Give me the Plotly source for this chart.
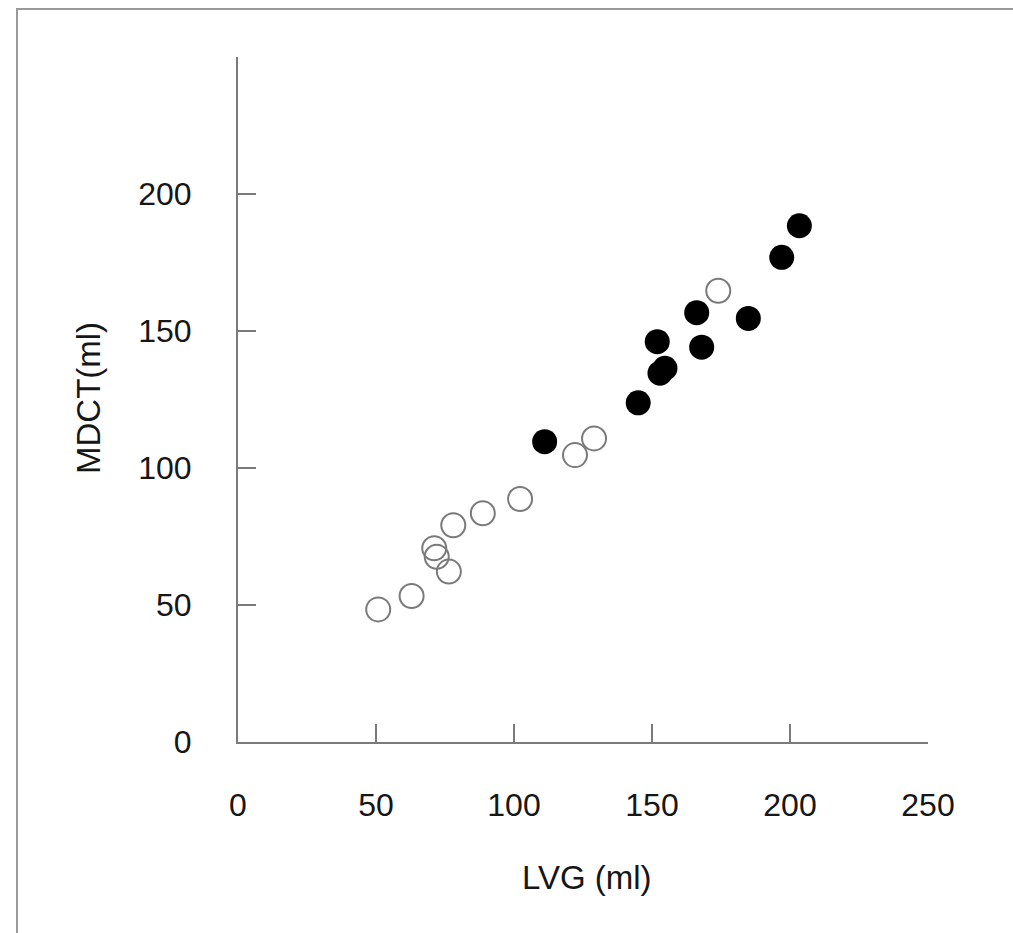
import plotly.graph_objects as go

# Open circles (group 1)
open_lvg = [50.8, 62.9, 71.1, 72.0, 76.4, 78.0, 88.7, 102.2, 122.1, 129.0, 174.0]
open_mdct = [48.4, 53.3, 70.7, 67.6, 62.2, 79.1, 83.5, 88.7, 104.7, 110.8, 164.7]

# Filled circles (group 2)
filled_lvg = [111.1, 145.0, 151.9, 152.9, 154.7, 166.2, 168.0, 184.9, 197.0, 203.4]
filled_mdct = [109.6, 123.8, 146.1, 134.6, 136.4, 156.7, 144.1, 154.6, 176.9, 188.4]

x_ticks = [0, 50, 100, 150, 200, 250]
x_ticktext = ["0", "50", "100", "150", "200", "250"]
y_ticks = [0, 50, 100, 150, 200, 250]
y_ticktext = ["0", "50", "100", "150", "200", ""]

W, H = 1013, 933
L, R, T, B = 238, 85, 57, 191
pw, ph = W - L - R, H - T - B

fig = go.Figure()
fig.add_trace(go.Scatter(
    x=open_lvg, y=open_mdct, mode="markers",
    marker=dict(symbol="circle-open", size=24, color="#7a7a7a", line=dict(width=2, color="#7a7a7a")),
    showlegend=False, cliponaxis=False))
fig.add_trace(go.Scatter(
    x=filled_lvg, y=filled_mdct, mode="markers",
    marker=dict(symbol="circle", size=25, color="#000000", line=dict(width=0)),
    showlegend=False, cliponaxis=False))

font_family = "Liberation Sans, Arial, Helvetica, sans-serif"
axis_common = dict(
    showline=True, linecolor="#7a7a7a", linewidth=2,
    ticks="inside", ticklen=18, tickwidth=2, tickcolor="#7a7a7a",
    showgrid=False, zeroline=False, fixedrange=True,
    tickfont=dict(family=font_family, size=32, color="#161616"),
)
fig.update_xaxes(range=[0, 250], tickmode="array", tickvals=x_ticks, ticktext=x_ticktext,
                 ticklabelstandoff=34, **axis_common)
fig.update_yaxes(range=[0, 250], tickmode="array", tickvals=y_ticks, ticktext=y_ticktext,
                 ticklabelstandoff=38, **axis_common)

fig.add_annotation(text="LVG (ml)", xref="paper", yref="paper",
                   x=(587 - L) / pw, y=(T + ph - 877) / ph, xanchor="center", yanchor="middle",
                   showarrow=False, font=dict(family=font_family, size=33, color="#161616"))
fig.add_annotation(text="MDCT(ml)", xref="paper", yref="paper",
                   x=(88 - L) / pw, y=(T + ph - 398) / ph, xanchor="center", yanchor="middle",
                   textangle=-90, showarrow=False,
                   font=dict(family=font_family, size=33, color="#161616"))

# outer frame (only top and left edges visible in the image)
fig.add_shape(type="rect", xref="paper", yref="paper",
              x0=(17 - L) / pw, x1=(W + 20 - L) / pw,
              y0=(T + ph - (H + 20)) / ph, y1=(T + ph - 9) / ph,
              line=dict(color="#999999", width=2), fillcolor="rgba(0,0,0,0)", layer="below")

fig.update_layout(
    width=W, height=H,
    margin=dict(l=L, r=R, t=T, b=B, autoexpand=False),
    paper_bgcolor="white", plot_bgcolor="white",
)

fig.write_html("out.html", config={"displayModeBar": False})
